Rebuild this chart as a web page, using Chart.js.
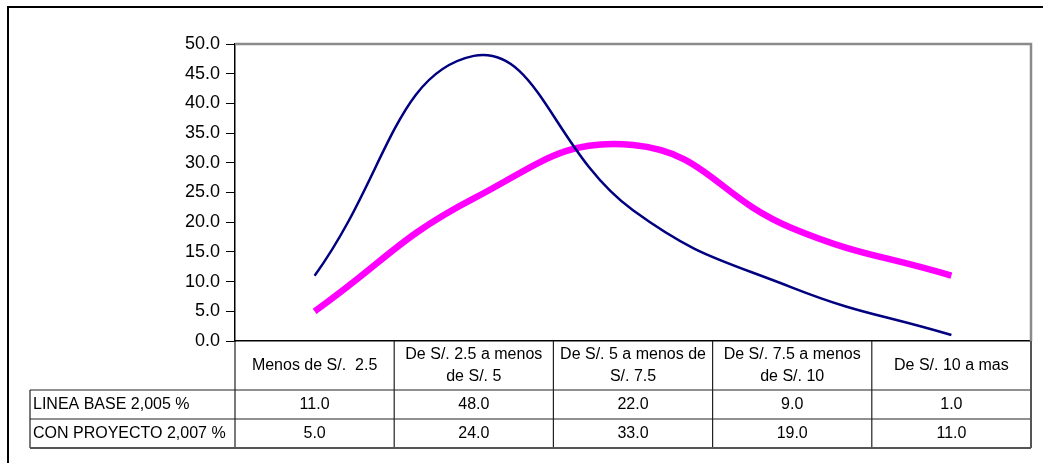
<!DOCTYPE html>
<html>
<head>
<meta charset="utf-8">
<script src="https://cdn.jsdelivr.net/npm/chart.js@4"></script>
<style>
  html, body { margin: 0; padding: 0; background: #fff; }
  #wrap { width: 1043px; height: 463px; position: relative; }
</style>
</head>
<body>
<div id="wrap"><canvas id="c"></canvas></div>
<script>
const categories = [
  ["Menos de S/.  2.5"],
  ["De S/. 2.5 a menos", "de S/. 5"],
  ["De S/. 5 a menos de", "S/. 7.5"],
  ["De S/. 7.5 a menos", "de S/. 10"],
  ["De S/. 10 a mas"]
];
const seriesNames = ["LINEA BASE 2,005 %", "CON PROYECTO 2,007 %"];
const lineaBase = [11.0, 48.0, 22.0, 9.0, 1.0];
const conProyecto = [5.0, 24.0, 33.0, 19.0, 11.0];

const FONT = "'Liberation Sans', Arial, sans-serif";
const TABLE_LEFT = 30;
const HEADER_H = 49;
const ROW_H = 29;

// draws the outer frame, plot frame and the data table under the x axis
const tablePlugin = {
  id: "dataTable",
  afterDraw(chart) {
    const ctx = chart.ctx;
    const area = chart.chartArea;
    const x = chart.scales.x;
    const rows = [lineaBase, conProyecto];
    const half = (x.getPixelForValue(1) - x.getPixelForValue(0)) / 2;
    const top = area.bottom;
    const row1 = top + HEADER_H;
    const row2 = row1 + ROW_H;
    const bottom = row2 + ROW_H;

    ctx.save();
    // outer frame
    ctx.strokeStyle = "#000";
    ctx.lineWidth = 2;
    ctx.beginPath();
    ctx.moveTo(8, 470); ctx.lineTo(8, 7); ctx.lineTo(1050, 7);
    ctx.stroke();

    // plot frame top/right
    ctx.strokeStyle = "#8a8a8a";
    ctx.lineWidth = 2.5;
    ctx.beginPath();
    ctx.moveTo(area.left, area.top);
    ctx.lineTo(area.right, area.top);
    ctx.lineTo(area.right, area.bottom);
    ctx.stroke();

    // table grid
    ctx.strokeStyle = "#222";
    ctx.lineWidth = 1.2;
    ctx.beginPath();
    ctx.moveTo(TABLE_LEFT, row1); ctx.lineTo(area.right, row1);
    ctx.moveTo(TABLE_LEFT, row2); ctx.lineTo(area.right, row2);
    ctx.moveTo(TABLE_LEFT, row1); ctx.lineTo(TABLE_LEFT, bottom);
    ctx.moveTo(area.left, top); ctx.lineTo(area.left, bottom);
    categories.forEach((c, i) => {
      if (i === categories.length - 1) return;
      const bx = x.getPixelForValue(i) + half;
      ctx.moveTo(bx, top); ctx.lineTo(bx, bottom);
    });
    ctx.stroke();
    ctx.strokeStyle = "#555";
    ctx.lineWidth = 2;
    ctx.beginPath();
    ctx.moveTo(TABLE_LEFT, bottom); ctx.lineTo(area.right, bottom);
    ctx.moveTo(area.right, top); ctx.lineTo(area.right, bottom);
    ctx.stroke();

    // header labels
    ctx.fillStyle = "#000";
    ctx.font = "16px " + FONT;
    ctx.textAlign = "center";
    ctx.textBaseline = "middle";
    const hc = top + HEADER_H / 2;
    categories.forEach((lines, i) => {
      const cx = x.getPixelForValue(i);
      lines.forEach((t, k) => {
        ctx.fillText(t, cx, hc + (k - (lines.length - 1) / 2) * 22);
      });
    });

    // rows
    rows.forEach((vals, r) => {
      const cy = row1 + ROW_H * r + ROW_H / 2;
      ctx.textAlign = "left";
      ctx.fillText(seriesNames[r], TABLE_LEFT + 3, cy);
      ctx.textAlign = "center";
      vals.forEach((v, i) => ctx.fillText(v.toFixed(1), x.getPixelForValue(i), cy));
    });
    ctx.restore();
  }
};

new Chart(document.getElementById("c"), {
  type: "line",
  data: {
    labels: categories.map(c => c.join(" ")),
    datasets: [
      {
        label: seriesNames[0],
        data: lineaBase,
        borderColor: "#000080",
        borderWidth: 2.5,
        tension: 0.45,
        pointRadius: 0
      },
      {
        label: seriesNames[1],
        data: conProyecto,
        borderColor: "#ff00ff",
        borderWidth: 6.5,
        tension: 0.45,
        pointRadius: 0
      }
    ]
  },
  options: {
    animation: false,
    responsive: true,
    maintainAspectRatio: false,
    layout: { padding: { top: 44, right: 12, left: 0, bottom: 0 } },
    scales: {
      x: {
        offset: true,
        ticks: { display: false },
        grid: { display: false },
        border: { color: "#000", width: 1.5 },
        afterFit(scale) { scale.height = 122; }
      },
      y: {
        min: 0,
        max: 50,
        ticks: {
          stepSize: 5,
          color: "#000",
          font: { size: 18, family: FONT },
          padding: 6,
          callback: v => v.toFixed(1)
        },
        grid: { drawOnChartArea: false, tickLength: 9, color: "#000", tickColor: "#000" },
        border: { color: "#000", width: 1.5 },
        afterFit(scale) { scale.width = 235; }
      }
    },
    plugins: {
      legend: { display: false },
      tooltip: { enabled: false }
    }
  },
  plugins: [tablePlugin]
});
</script>
</body>
</html>
